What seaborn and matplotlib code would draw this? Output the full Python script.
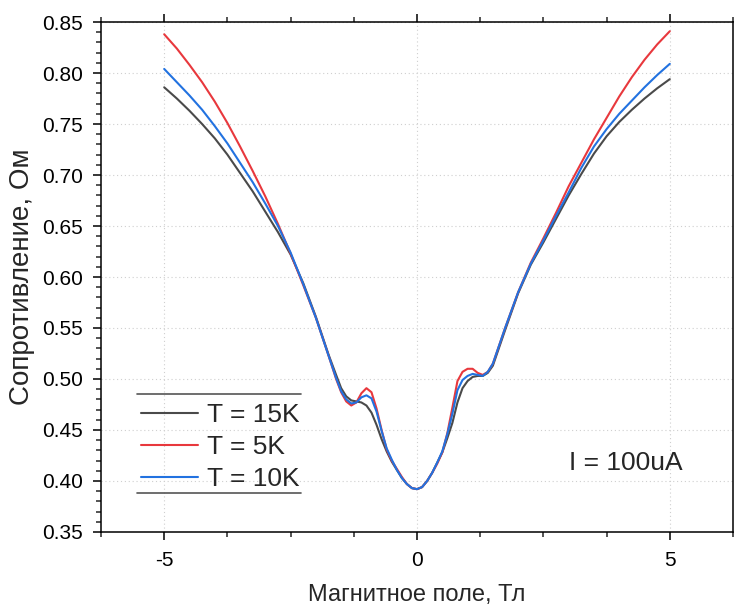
import numpy as np
import pandas as pd
import matplotlib
matplotlib.use("Agg")
import matplotlib.pyplot as plt
from matplotlib.lines import Line2D
from matplotlib.ticker import MultipleLocator
import seaborn as sns

# ---------------- data ----------------
field = [-5, -4.75, -4.5, -4.25, -4, -3.75, -3.5, -3.25, -3, -2.75, -2.5, -2.25, -2, -1.75,
         -1.6, -1.5, -1.4, -1.3, -1.2, -1.1, -1.0, -0.9, -0.8, -0.7, -0.6, -0.5, -0.4, -0.3,
         -0.2, -0.1, 0.0, 0.1, 0.2, 0.3, 0.4, 0.5, 0.6, 0.7, 0.8, 0.9, 1.0, 1.1, 1.2, 1.3,
         1.4, 1.5, 1.75, 2, 2.25, 2.5, 2.75, 3, 3.25, 3.5, 3.75, 4, 4.25, 4.5, 4.75, 5]

r_15K = [0.786, 0.775, 0.763, 0.750, 0.736, 0.720, 0.702, 0.684, 0.664, 0.644, 0.622, 0.594, 0.561, 0.524,
         0.504, 0.491, 0.483, 0.479, 0.478, 0.477, 0.474, 0.467, 0.455, 0.441, 0.429, 0.419, 0.411, 0.403,
         0.397, 0.393, 0.392, 0.394, 0.400, 0.408, 0.418, 0.428, 0.442, 0.457, 0.477, 0.491, 0.498, 0.502,
         0.503, 0.503, 0.506, 0.513, 0.549, 0.584, 0.612, 0.634, 0.657, 0.680, 0.701, 0.721, 0.738, 0.752,
         0.764, 0.775, 0.785, 0.794]

r_5K = [0.838, 0.824, 0.808, 0.791, 0.772, 0.751, 0.728, 0.704, 0.679, 0.652, 0.623, 0.592, 0.560, 0.523,
        0.500, 0.487, 0.478, 0.474, 0.477, 0.486, 0.491, 0.487, 0.471, 0.450, 0.431, 0.420, 0.412, 0.404,
        0.397, 0.393, 0.392, 0.394, 0.400, 0.408, 0.417, 0.428, 0.447, 0.472, 0.498, 0.507, 0.510, 0.510,
        0.506, 0.504, 0.507, 0.515, 0.551, 0.585, 0.614, 0.638, 0.663, 0.689, 0.712, 0.735, 0.756, 0.777,
        0.796, 0.813, 0.828, 0.841]

r_10K = [0.804, 0.791, 0.778, 0.764, 0.748, 0.731, 0.712, 0.693, 0.672, 0.650, 0.624, 0.593, 0.560, 0.523,
         0.501, 0.488, 0.480, 0.476, 0.477, 0.482, 0.484, 0.481, 0.468, 0.449, 0.432, 0.421, 0.411, 0.403,
         0.397, 0.393, 0.392, 0.394, 0.400, 0.408, 0.418, 0.429, 0.446, 0.466, 0.489, 0.499, 0.503, 0.505,
         0.504, 0.503, 0.507, 0.515, 0.551, 0.585, 0.613, 0.636, 0.660, 0.683, 0.707, 0.728, 0.745, 0.760,
         0.773, 0.786, 0.798, 0.809]

labels = ["T = 15K", "T = 5K", "T = 10K"]
colors = ["#4a4a4a", "#e8383d", "#2272e0"]
x_ticks = [-5, 0, 5]
y_ticks = [0.35, 0.40, 0.45, 0.50, 0.55, 0.60, 0.65, 0.70, 0.75, 0.80, 0.85]
xlabel = "Магнитное поле, Тл"
ylabel = "Сопротивление, Ом"
annotation = "I = 100uA"

df = pd.concat([
    pd.DataFrame({"field": field, "R": r_15K, "series": labels[0]}),
    pd.DataFrame({"field": field, "R": r_5K, "series": labels[1]}),
    pd.DataFrame({"field": field, "R": r_10K, "series": labels[2]}),
], ignore_index=True)

# ---------------- style ----------------
sns.set_style("ticks")
plt.rcParams["font.family"] = ["Liberation Sans", "DejaVu Sans"]
plt.rcParams["axes.linewidth"] = 1.1
plt.rcParams["axes.unicode_minus"] = False

fig = plt.figure(figsize=(7.35, 6.10), dpi=100)
ax = fig.add_axes([0.1374, 0.1279, 0.9973 - 0.1374, 0.9639 - 0.1279])

sns.lineplot(data=df, x="field", y="R", hue="series", hue_order=labels,
             palette=dict(zip(labels, colors)), estimator=None, sort=False,
             linewidth=1.5, ax=ax)

ax.set_xlim(-6.25, 6.25)
ax.set_ylim(0.35, 0.85)
ax.set_xticks(x_ticks)
ax.set_yticks(y_ticks)
ax.set_yticklabels([f"{v:.2f}" for v in y_ticks])
ax.xaxis.set_minor_locator(MultipleLocator(1.25))
ax.yaxis.set_minor_locator(MultipleLocator(0.01))

ax.grid(True, which="major", linestyle=(0, (1, 2.5)), color="#cfcfcf", linewidth=0.8)
ax.set_axisbelow(True)

ax.tick_params(axis="both", which="major", direction="out", length=6, width=1.1,
               labelsize=15, colors="black")
ax.tick_params(axis="both", which="minor", direction="out", length=3.5, width=1.1)
ax.tick_params(axis="x", which="both", top=True)
ax.tick_params(axis="x", which="major", pad=8)
ax.tick_params(axis="y", which="major", pad=7)

for s in ax.spines.values():
    s.set_visible(True)
    s.set_color("black")
    s.set_linewidth(1.1)

ax.set_xlabel(xlabel, fontsize=17, labelpad=10)
ax.set_ylabel(ylabel, fontsize=20, labelpad=5)

ax.text(4.12, 0.418, annotation, fontsize=19, ha="center", va="center")

handles, lbls = ax.get_legend_handles_labels()
leg = ax.legend(handles, lbls, loc="lower left", bbox_to_anchor=(0.064, 0.080),
                frameon=False, fontsize=19, handlelength=2.15, handletextpad=0.33,
                labelspacing=0.3, borderaxespad=0.0, borderpad=0.0)
for h in leg.get_lines():
    h.set_linewidth(1.5)

fig.canvas.draw()
bb = leg.get_window_extent()
W, H = fig.bbox.width, fig.bbox.height
x0 = (bb.x0 - 4) / W
x1 = (bb.x1 + 2) / W
for yy in ((bb.y0 - 2) / H, (bb.y1 + 9) / H):
    fig.add_artist(Line2D([x0, x1], [yy, yy], transform=fig.transFigure,
                          color="#555555", linewidth=1.2))

fig.savefig("out.png", dpi=100)
